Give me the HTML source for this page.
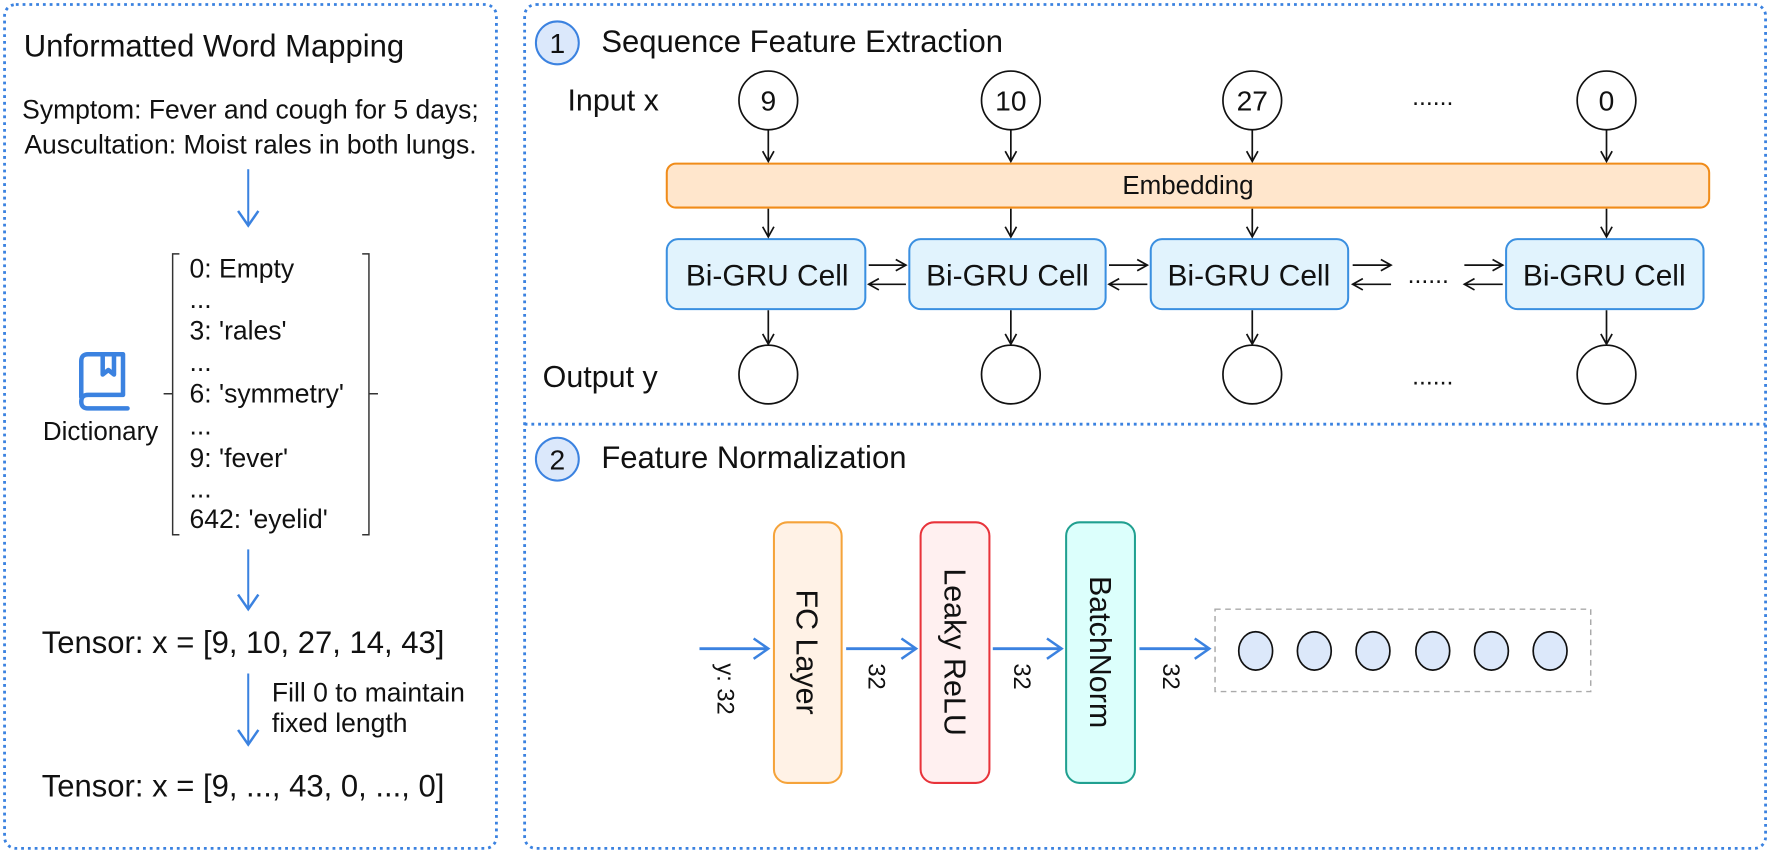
<!DOCTYPE html>
<html><head><meta charset="utf-8"><style>
html,body{margin:0;padding:0;background:#fff;}
svg{display:block;}
text{font-family:"Liberation Sans",Arial,sans-serif;fill:#111;}
</style></head><body>
<svg width="1769" height="854" viewBox="0 0 1568 757" xmlns="http://www.w3.org/2000/svg">
<defs>
<marker id="ab" markerWidth="12" markerHeight="12" refX="10" refY="6" orient="auto" markerUnits="userSpaceOnUse"><path d="M1,1 L10,6 L1,11" fill="none" stroke="#111" stroke-width="1.5"/></marker>
<marker id="bb" markerWidth="20" markerHeight="20" refX="15" refY="10" orient="auto" markerUnits="userSpaceOnUse"><path d="M2,1 L15,10 L2,19" fill="none" stroke="#3b82e0" stroke-width="2.2"/></marker>
</defs>
<g fill="none" stroke="#3b82e0" stroke-width="2.5" stroke-dasharray="2.5 3.5">
<rect x="4" y="4" width="436" height="748" rx="10"/>
<rect x="465" y="4" width="1100" height="748" rx="10"/>
<line x1="465" y1="376" x2="1565" y2="376"/>
</g>
<!-- left panel -->
<text x="21" y="50" font-size="27.5">Unformatted Word Mapping</text>
<text x="222" y="105" font-size="23.5" text-anchor="middle">Symptom: Fever and cough for 5 days;</text>
<text x="222" y="136" font-size="23.5" text-anchor="middle">Auscultation: Moist rales in both lungs.</text>
<line x1="220" y1="150" x2="220" y2="200" stroke="#3b82e0" stroke-width="1.8" marker-end="url(#bb)"/>
<path d="M159,225 L153,225 L153,474 L159,474 M153,349 L145,349" fill="none" stroke="#333" stroke-width="1.3"/>
<path d="M321,225 L327,225 L327,474 L321,474 M327,349 L335,349" fill="none" stroke="#333" stroke-width="1.3"/>
<g font-size="23.5">
<text x="168" y="246">0: Empty</text>
<text x="168" y="273">...</text>
<text x="168" y="301">3: 'rales'</text>
<text x="168" y="329">...</text>
<text x="168" y="357">6: 'symmetry'</text>
<text x="168" y="385">...</text>
<text x="168" y="414">9: 'fever'</text>
<text x="168" y="441">...</text>
<text x="168" y="468">642: 'eyelid'</text>
</g>
<g fill="none" stroke="#3b82e0" stroke-width="4" stroke-linejoin="round" stroke-linecap="round">
<path d="M72,352 L72,320 Q72,314 78,314 L109,314 L109,350 L78,350 Q72,350 72,356 Q72,362 78,362 L113,362"/>
<path d="M91,314 L91,332 L96,328 L101,332 L101,314"/>
</g>
<text x="38" y="390" font-size="23">Dictionary</text>
<line x1="220" y1="487" x2="220" y2="540" stroke="#3b82e0" stroke-width="1.8" marker-end="url(#bb)"/>
<text x="37" y="579" font-size="27.5">Tensor: x = [9, 10, 27, 14, 43]</text>
<line x1="220" y1="597" x2="220" y2="660" stroke="#3b82e0" stroke-width="1.8" marker-end="url(#bb)"/>
<text x="241" y="622" font-size="23.5">Fill 0 to maintain</text>
<text x="241" y="649" font-size="23.5">fixed length</text>
<text x="37" y="706" font-size="27.5">Tensor: x = [9, ..., 43, 0, ..., 0]</text>
<!-- top right -->
<circle cx="494" cy="38" r="19" fill="#dbe8fb" stroke="#3b82e0" stroke-width="1.8"/>
<text x="494" y="47" font-size="25" text-anchor="middle">1</text>
<text x="533" y="46" font-size="27.5">Sequence Feature Extraction</text>
<text x="503" y="98" font-size="27">Input x</text>
<text x="481" y="343" font-size="27">Output y</text>
<g fill="#fff" stroke="#111" stroke-width="1.5">
<circle cx="681" cy="89" r="26"/><circle cx="896" cy="89" r="26"/><circle cx="1110" cy="89" r="26"/><circle cx="1424" cy="89" r="26"/>
<circle cx="681" cy="332" r="26"/><circle cx="896" cy="332" r="26"/><circle cx="1110" cy="332" r="26"/><circle cx="1424" cy="332" r="26"/>
</g>
<g font-size="25" text-anchor="middle">
<text x="681" y="98">9</text><text x="896" y="98">10</text><text x="1110" y="98">27</text><text x="1424" y="98">0</text>
</g>
<text x="1270" y="93" font-size="22" text-anchor="middle">......</text>
<text x="1270" y="341" font-size="22" text-anchor="middle">......</text>
<text x="1266" y="251" font-size="22" text-anchor="middle">......</text>
<rect x="591" y="145" width="924" height="39" rx="8" fill="#ffe6cc" stroke="#f08c1a" stroke-width="1.8"/>
<text x="1053" y="172" font-size="23" text-anchor="middle">Embedding</text>
<g fill="#e1f3fd" stroke="#3a8fe0" stroke-width="1.8">
<rect x="591" y="212" width="176" height="62" rx="10"/><rect x="806" y="212" width="174" height="62" rx="10"/><rect x="1020" y="212" width="175" height="62" rx="10"/><rect x="1335" y="212" width="175" height="62" rx="10"/>
</g>
<g font-size="26.5" text-anchor="middle">
<text x="680" y="253">Bi-GRU Cell</text><text x="893" y="253">Bi-GRU Cell</text><text x="1107" y="253">Bi-GRU Cell</text><text x="1422" y="253">Bi-GRU Cell</text>
</g>
<g stroke="#111" stroke-width="1.5" marker-end="url(#ab)">
<line x1="681" y1="115" x2="681" y2="143"/><line x1="896" y1="115" x2="896" y2="143"/><line x1="1110" y1="115" x2="1110" y2="143"/><line x1="1424" y1="115" x2="1424" y2="143"/>
<line x1="681" y1="185" x2="681" y2="210"/><line x1="896" y1="185" x2="896" y2="210"/><line x1="1110" y1="185" x2="1110" y2="210"/><line x1="1424" y1="185" x2="1424" y2="210"/>
<line x1="681" y1="275" x2="681" y2="305"/><line x1="896" y1="275" x2="896" y2="305"/><line x1="1110" y1="275" x2="1110" y2="305"/><line x1="1424" y1="275" x2="1424" y2="305"/>
<line x1="770" y1="235" x2="803" y2="235"/><line x1="803" y1="252" x2="770" y2="252"/>
<line x1="983" y1="235" x2="1017" y2="235"/><line x1="1017" y1="252" x2="983" y2="252"/>
<line x1="1199" y1="235" x2="1233" y2="235"/><line x1="1233" y1="252" x2="1199" y2="252"/>
<line x1="1298" y1="235" x2="1332" y2="235"/><line x1="1332" y1="252" x2="1298" y2="252"/>
</g>
<!-- bottom right -->
<circle cx="494" cy="407" r="19" fill="#dbe8fb" stroke="#3b82e0" stroke-width="1.8"/>
<text x="494" y="416" font-size="25" text-anchor="middle">2</text>
<text x="533" y="415" font-size="27.5">Feature Normalization</text>
<rect x="686" y="463" width="60" height="231" rx="12" fill="#fff2e6" stroke="#f5a33a" stroke-width="1.8"/>
<rect x="816" y="463" width="61" height="231" rx="12" fill="#fff0f0" stroke="#e8333a" stroke-width="1.8"/>
<rect x="945" y="463" width="61" height="231" rx="12" fill="#dcfffc" stroke="#20a090" stroke-width="1.8"/>
<g font-size="27" text-anchor="middle">
<text transform="translate(706,578) rotate(90)">FC Layer</text>
<text transform="translate(837,578) rotate(90)">Leaky ReLU</text>
<text transform="translate(966,578) rotate(90)">BatchNorm</text>
</g>
<g stroke="#3b82e0" stroke-width="2.5" marker-end="url(#bb)">
<line x1="620" y1="575" x2="681" y2="575"/><line x1="750" y1="575" x2="812" y2="575"/><line x1="880" y1="575" x2="941" y2="575"/><line x1="1010" y1="575" x2="1072" y2="575"/>
</g>
<g font-size="21">
<text transform="translate(636,588) rotate(90)">y: 32</text>
<text transform="translate(770,588) rotate(90)">32</text>
<text transform="translate(899,588) rotate(90)">32</text>
<text transform="translate(1031,588) rotate(90)">32</text>
</g>
<rect x="1077" y="540" width="333" height="73" fill="none" stroke="#aaa" stroke-width="1.3" stroke-dasharray="5 4"/>
<g fill="#dce8fa" stroke="#111" stroke-width="1.5">
<ellipse cx="1113" cy="577" rx="15" ry="17"/><ellipse cx="1165" cy="577" rx="15" ry="17"/><ellipse cx="1217" cy="577" rx="15" ry="17"/><ellipse cx="1270" cy="577" rx="15" ry="17"/><ellipse cx="1322" cy="577" rx="15" ry="17"/><ellipse cx="1374" cy="577" rx="15" ry="17"/>
</g>
</svg>
</body></html>
